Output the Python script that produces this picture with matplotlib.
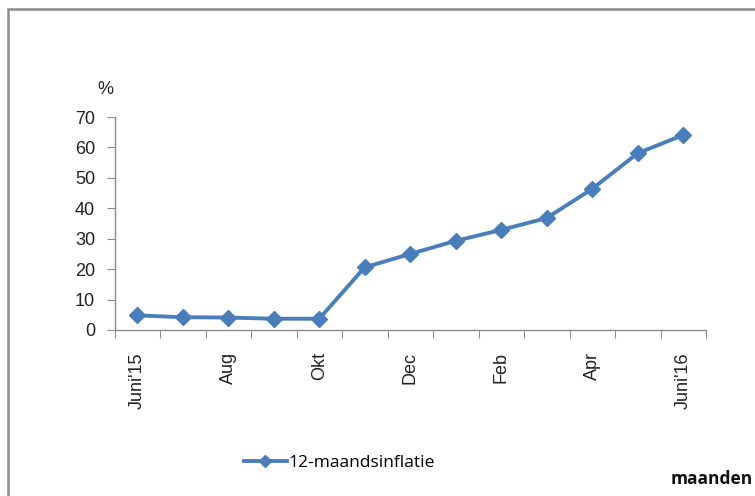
import matplotlib
matplotlib.use("Agg")
import matplotlib.pyplot as plt
from matplotlib.patches import Rectangle

months = ["Juni'15", "Jul", "Aug", "Sep", "Okt", "Nov", "Dec", "Jan", "Feb", "Mar", "Apr", "Mei", "Juni'16"]
inflation = [4.8, 4.2, 4.1, 3.7, 3.7, 20.6, 25.0, 29.3, 32.9, 36.8, 46.4, 58.1, 64.1]
shown_labels = ["Juni'15", "Aug", "Okt", "Dec", "Feb", "Apr", "Juni'16"]
yticks = [0, 10, 20, 30, 40, 50, 60, 70]
series_name = "12-maandsinflatie"

W, H = 755, 496
fig = plt.figure(figsize=(W/100, H/100), dpi=100)
fig.patch.set_facecolor("white")

# outer frame
fig.patches.append(Rectangle((8/W, -0.05), 1.2, 1 - 9/H + 0.05, transform=fig.transFigure,
                             fill=False, edgecolor="#8c8c8c", linewidth=1.8))

ax = fig.add_axes([114.5/W, 1 - 330/H, (706 - 114.5)/W, (330 - 117)/H])
x = list(range(len(months)))
line, = ax.plot(x, inflation, color="#4A7EBB", linewidth=2.8, marker="D", markersize=8.5,
                markeredgecolor="#4A7EBB", markerfacecolor="#4A7EBB", label=series_name)

ax.set_xlim(-0.5, len(months) - 0.5)
ax.set_ylim(0, 70)
for s in ["top", "right"]:
    ax.spines[s].set_visible(False)
for s in ["left", "bottom"]:
    ax.spines[s].set_color("#8c8c8c")
    ax.spines[s].set_linewidth(1.0)

ax.set_yticks(yticks)
ax.set_yticklabels([str(v) for v in yticks], fontsize=13, family="Liberation Sans", color="#222222")
ax.tick_params(axis="y", direction="out", length=6, color="#8c8c8c", pad=8)

ax.set_xticks([i - 0.5 for i in range(len(months) + 1)])
ax.set_xticklabels([])
ax.tick_params(axis="x", which="major", direction="out", length=6, color="#8c8c8c")
label_pos = [months.index(m) for m in shown_labels]
ax.set_xticks(label_pos, minor=True)
ax.set_xticklabels(shown_labels, minor=True, rotation=90, fontsize=13,
                   family="Liberation Sans", color="#222222")
ax.tick_params(axis="x", which="minor", length=0, pad=16)

fig.text(97/W, 1 - 90/H, "%", fontsize=13, family="Liberation Sans", color="#222222",
         va="center", ha="left")

fig.legend(handles=[line], loc="center left", bbox_to_anchor=(228/W, 1 - 463/H), frameon=False,
           handlelength=2.5, handletextpad=0.1, prop={"family": "Open Sans", "size": 12.5},
           markerscale=0.75)

fig.text(671/W, 1 - 479/H, "maanden", fontsize=12.5, fontweight="bold", family="Open Sans",
         color="#111111", va="center", ha="left")

fig.savefig("out.png", dpi=100)
